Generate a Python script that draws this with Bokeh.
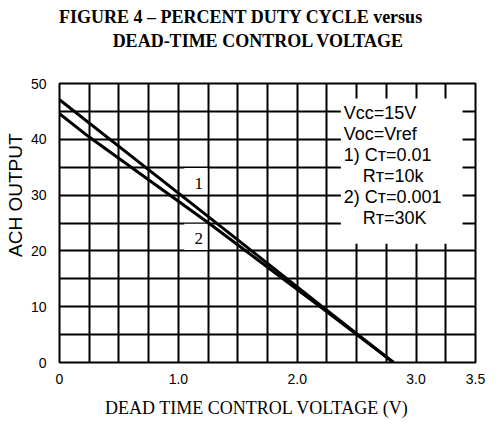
from bokeh.plotting import figure
from bokeh.models import Label, BoxAnnotation, FixedTicker, SingleIntervalTicker, Range1d, Title
from bokeh.embed import file_html
from bokeh.resources import INLINE

# ---- data ----
volt_1 = [0.0, 1.26, 2.2, 2.81]
duty_1 = [47.1, 26.0, 10.2, 0.0]
volt_2 = [0.0, 0.25, 1.26, 2.2, 2.81]
duty_2 = [44.6, 40.4, 24.9, 9.9, 0.0]

x_ticks = [0, 1, 2, 3, 3.5]
x_tick_labels = ["0", "1.0", "2.0", "3.0", "3.5"]
y_ticks = [0, 10, 20, 30, 40, 50]
y_tick_labels = ["0", "10", "20", "30", "40", "50"]

title_lines = ["FIGURE 4 \u2013 PERCENT DUTY CYCLE versus", "DEAD-TIME CONTROL VOLTAGE"]
x_title = "DEAD TIME CONTROL VOLTAGE (V)"
y_title = "ACH OUTPUT"
legend_lines = ["Vcc=15V", "Voc=Vref", "1) C\u1d1b=0.01", "R\u1d1b=10k", "2) C\u1d1b=0.001", "R\u1d1b=30K"]
legend_indent = [0, 0, 0, 1, 0, 1]
curve_names = ["1", "2"]

SANS = "Liberation Sans"
SERIF = "Liberation Serif"
LIFT = 5  # px, text baseline correction

p = figure(width=495, height=419, x_range=Range1d(0, 3.5), y_range=Range1d(0, 50),
           output_backend="svg", toolbar_location=None,
           min_border_left=58, min_border_right=20, min_border_top=83, min_border_bottom=57)
p.background_fill_color = "white"
p.border_fill_color = "white"
p.outline_line_color = "black"
p.outline_line_width = 2

# grid
p.xgrid.ticker = SingleIntervalTicker(interval=0.25)
p.ygrid.ticker = SingleIntervalTicker(interval=5)
for g in (p.xgrid, p.ygrid):
    g.grid_line_color = "black"
    g.grid_line_width = 2
    g.grid_line_alpha = 1.0

# axes
p.xaxis.ticker = FixedTicker(ticks=x_ticks)
p.xaxis.major_label_overrides = dict(zip(x_ticks, x_tick_labels))
p.yaxis.ticker = FixedTicker(ticks=y_ticks)
p.yaxis.major_label_overrides = dict(zip(y_ticks, y_tick_labels))
for ax in (p.xaxis, p.yaxis):
    ax.axis_line_color = None
    ax.major_tick_line_color = None
    ax.minor_tick_line_color = None
    ax.major_tick_in = 0
    ax.major_tick_out = 0
    ax.minor_tick_in = 0
    ax.minor_tick_out = 0
    ax.major_label_text_font = SANS
    ax.major_label_text_font_size = "14px"
    ax.major_label_text_color = "black"
p.xaxis.major_label_standoff = 11
p.yaxis.major_label_standoff = 13

# white boxes (legend + curve labels) covering the grid
p.add_layout(BoxAnnotation(left=2.367, right=3.391, bottom=21.3, top=47.3,
                           fill_color="white", fill_alpha=1, line_color=None, level="underlay"))
for b, t in [(30.15, 34.85), (20.15, 24.85)]:
    p.add_layout(BoxAnnotation(left=1.05, right=1.245, bottom=b, top=t,
                               fill_color="white", fill_alpha=1, line_color=None, level="underlay"))

# curves
p.line(volt_1, duty_1, line_color="black", line_width=3)
p.line(volt_2, duty_2, line_color="black", line_width=3)

# curve labels
for name, yy in zip(curve_names, [31.2, 21.3]):
    p.add_layout(Label(x=1.171, y=yy, y_offset=LIFT, text=name, text_font=SERIF,
                       text_font_size="17px", text_align="center", text_baseline="alphabetic",
                       text_color="black"))

# legend text
for i, (txt, ind) in enumerate(zip(legend_lines, legend_indent)):
    p.add_layout(Label(x=2.392 if ind == 0 else 2.552, y=43.9, y_offset=LIFT - 21 * i, text=txt,
                       text_font=SANS, text_font_size="18px", text_align="left",
                       text_baseline="alphabetic", text_color="black"))

# two-line figure title, placed in the top border panel
p.add_layout(Label(x=1.528, y=61.1, y_offset=LIFT, text=title_lines[0], text_font=SERIF,
                   text_font_size="18px", text_font_style="bold", text_align="center",
                   text_baseline="alphabetic", text_color="black"), "above")
p.add_layout(Label(x=1.674, y=56.8, y_offset=LIFT, text=title_lines[1], text_font=SERIF,
                   text_font_size="18px", text_font_style="bold", text_align="center",
                   text_baseline="alphabetic", text_color="black"), "above")
# x axis title, in the bottom border panel
p.add_layout(Label(x=1.662, y=-9.5, y_offset=LIFT + 3, text=x_title, text_font=SERIF,
                   text_font_size="18px", text_align="center", text_baseline="alphabetic",
                   text_color="black"), "below")
# y axis title
p.add_layout(Title(text=y_title, text_font=SANS, text_font_size="19px", text_color="black",
                   text_font_style="normal", align="right", offset=50, standoff=4), "left")

open("out.html", "w").write(file_html(p, INLINE))
